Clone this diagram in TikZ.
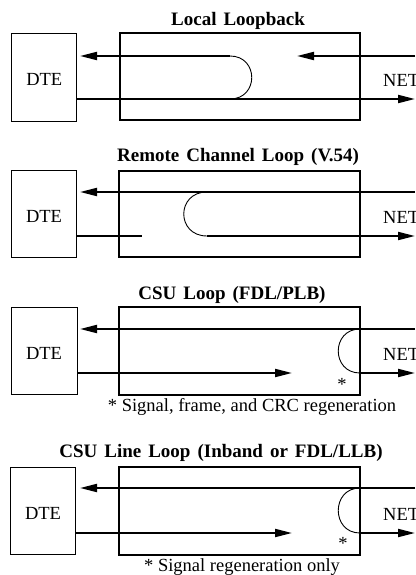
\documentclass[tikz,border=0pt]{standalone}
\usepackage{fontspec}
\setmainfont{Liberation Serif}
\usetikzlibrary{arrows.meta}
\newcommand{\tsp}{\hspace{7pt}}
\begin{document}
\begin{tikzpicture}[x=1pt,y=-1pt,
  font=\fontsize{18.5}{22}\selectfont,
  dtebox/.style={draw,line width=0.9pt,inner sep=0pt},
  unitbox/.style={draw,line width=2pt,inner sep=0pt},
  sig/.style={line width=2pt},
  sigarr/.style={line width=2pt,-{Triangle[length=17pt,width=8pt]}},
  loopc/.style={line width=0.9pt},
  ttl/.style={font=\fontsize{19}{22}\selectfont\bfseries,inner sep=0pt},
  lbl/.style={inner sep=0pt},
  net/.style={inner sep=0pt,anchor=west}]
\useasboundingbox (0,0) rectangle (415,575);
% ---------- Panel 1 ----------
\node[ttl] (t1) at (238,21) {Local\tsp Loopback};
\node[dtebox,minimum width=65pt,minimum height=88.5pt] (dte1) at (44.3,77.5) {};
\node[lbl] (dtetxt1) at (44.3,79.5) {DTE};
\node[unitbox,minimum width=240pt,minimum height=86.7pt] (box1) at (240,76.7) {};
\node[net] (net1) at (383,80) {NET};
\coordinate (a1r) at (415,56);
\coordinate (a1m) at (297,56);
\coordinate (a1c) at (230,56);
\coordinate (a1l) at (80,56);
\coordinate (b1c) at (230,99);
\coordinate (b1l) at (dte1.east |- b1c);
\coordinate (b1r) at (415,99);
\draw[sigarr] (a1r) -- (a1m);
\draw[sigarr] (a1c) -- (a1l);
\draw[sigarr] (b1l) -- (b1r);
\draw[loopc] (a1c) .. controls (259,56) and (259,99) .. (b1c);
% ---------- Panel 2 ----------
\node[ttl] (t2) at (238,157) {Remote\tsp Channel\tsp Loop\tsp (V.54)};
\node[dtebox,minimum width=65pt,minimum height=87pt] (dte2) at (44,213.5) {};
\node[lbl] (dtetxt2) at (44,216) {DTE};
\node[unitbox,minimum width=241pt,minimum height=86pt] (box2) at (239.5,214) {};
\node[net] (net2) at (383,217) {NET};
\coordinate (a2r) at (415,192);
\coordinate (a2l) at (80,192);
\coordinate (a2c) at (207,192);
\coordinate (b2c) at (207,236);
\coordinate (b2l) at (dte2.east |- b2c);
\coordinate (b2s) at (142,236);
\coordinate (b2r) at (415,236);
\draw[sigarr] (a2r) -- (a2l);
\draw[sig] (b2l) -- (b2s);
\draw[loopc] (a2c) .. controls (176,192) and (176,236) .. (b2c);
\draw[sigarr] (b2c) -- (b2r);
% ---------- Panel 3 ----------
\node[ttl] (t3) at (232,295) {CSU\tsp Loop\tsp (FDL/PLB)};
\node[dtebox,minimum width=66pt,minimum height=87pt] (dte3) at (44,350.5) {};
\node[lbl] (dtetxt3) at (44,353) {DTE};
\node[unitbox,minimum width=241pt,minimum height=88pt] (box3) at (239.5,351) {};
\node[net] (net3) at (383,354) {NET};
\coordinate (a3r) at (415,329);
\coordinate (a3l) at (80,329);
\coordinate (a3c) at (360,329);
\coordinate (b3c) at (360,373);
\coordinate (b3l) at (dte3.east |- b3c);
\coordinate (b3m) at (292,373);
\coordinate (b3r) at (415,373);
\draw[sigarr] (a3r) -- (a3l);
\draw[sigarr] (b3l) -- (b3m);
\draw[loopc] (a3c) .. controls (331,329) and (331,373) .. (b3c);
\draw[sigarr] (b3c) -- (b3r);
\node[lbl] (st3) at (342,384) {*};
\node[lbl] (n3) at (252,407) {* Signal, frame, and CRC regeneration};
% ---------- Panel 4 ----------
\node[ttl] (t4) at (221,453) {CSU\tsp Line\tsp Loop\tsp (Inband\tsp or\tsp FDL/LLB)};
\node[dtebox,minimum width=65pt,minimum height=87pt] (dte4) at (43,510.5) {};
\node[lbl] (dtetxt4) at (43,513) {DTE};
\node[unitbox,minimum width=241pt,minimum height=88pt] (box4) at (239.5,511) {};
\node[net] (net4) at (383,514) {NET};
\coordinate (a4r) at (415,488);
\coordinate (a4l) at (80,488);
\coordinate (a4c) at (360,488);
\coordinate (b4c) at (360,533);
\coordinate (b4l) at (dte4.east |- b4c);
\coordinate (b4m) at (292,533);
\coordinate (b4r) at (415,533);
\draw[sigarr] (a4r) -- (a4l);
\draw[sigarr] (b4l) -- (b4m);
\draw[loopc] (a4c) .. controls (331,488) and (331,533) .. (b4c);
\draw[sigarr] (b4c) -- (b4r);
\node[lbl] (st4) at (343,543) {*};
\node[lbl] (n4) at (242,567) {* Signal regeneration only};
\end{tikzpicture}
\end{document}
